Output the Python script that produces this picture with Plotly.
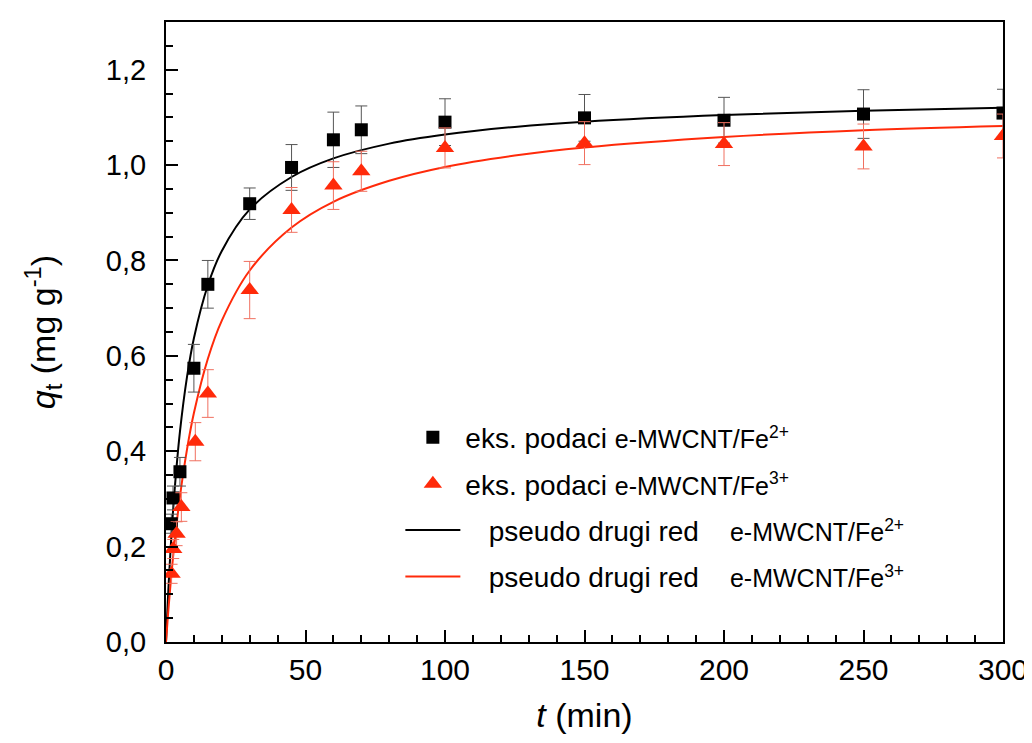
import plotly.graph_objects as go

# experimental points, e-MWCNT/Fe2+
t_fe2 = [1.9, 2.5, 5, 10, 15, 30, 45, 60, 70, 100, 150, 200, 250, 300]
q_fe2 = [0.248, 0.302, 0.357, 0.574, 0.750, 0.919, 0.995, 1.053, 1.074, 1.090, 1.099, 1.094, 1.107, 1.109]
err_fe2 = [0.02, 0.025, 0.03, 0.05, 0.05, 0.033, 0.048, 0.058, 0.05, 0.049, 0.049, 0.048, 0.051, 0.05]

# experimental points, e-MWCNT/Fe3+
t_fe3 = [2, 2.6, 3.8, 5.5, 10.5, 15, 30, 45, 60, 70, 100, 150, 200, 250, 300]
q_fe3 = [0.143, 0.195, 0.227, 0.283, 0.420, 0.521, 0.738, 0.906, 0.957, 0.987, 1.036, 1.046, 1.044, 1.039, 1.061]
err_fe3 = [0.02, 0.02, 0.025, 0.03, 0.04, 0.05, 0.06, 0.047, 0.05, 0.042, 0.042, 0.045, 0.045, 0.047, 0.046]

# pseudo second order curves
t_fit = [0, 0.5, 1, 2, 3, 5, 7.5, 10, 15, 20, 30, 45, 60, 80, 100, 125, 150, 200, 250, 300]
q_fit_fe2 = [0, 0.067, 0.127, 0.229, 0.312, 0.441, 0.555, 0.637, 0.748, 0.820, 0.907, 0.975,
             1.014, 1.045, 1.064, 1.080, 1.091, 1.105, 1.114, 1.120]
q_fit_fe3 = [0, 0.040, 0.078, 0.145, 0.205, 0.305, 0.403, 0.480, 0.594, 0.674, 0.779, 0.869,
             0.923, 0.967, 0.996, 1.020, 1.037, 1.059, 1.073, 1.082]

RED = '#ff2a0a'
small = "<span style='font-size:25px'>e-MWCNT/Fe<sup>%s</sup></span>"
gap = "&nbsp;&nbsp;&nbsp;&nbsp;"

fig = go.Figure()
fig.add_trace(go.Scatter(
    x=t_fit, y=q_fit_fe2, mode='lines', line=dict(color='black', width=2, shape='spline'),
    name="&nbsp;&nbsp;&nbsp;pseudo drugi red" + gap + small % '2+', legendrank=3, legendgroup='c'
))
fig.add_trace(go.Scatter(
    x=t_fit, y=q_fit_fe3, mode='lines', line=dict(color=RED, width=2, shape='spline'),
    name="&nbsp;&nbsp;&nbsp;pseudo drugi red" + gap + small % '3+', legendrank=4, legendgroup='d'
))
fig.add_trace(go.Scatter(
    x=t_fe2, y=q_fe2, mode='markers', marker=dict(symbol='square', size=13, color='black'),
    error_y=dict(type='data', array=err_fe2, color='#555555', thickness=1, width=6),
    name="eks. podaci " + small % '2+', legendrank=1, legendgroup='a'
))
fig.add_trace(go.Scatter(
    x=t_fe3, y=q_fe3, mode='markers', marker=dict(symbol='triangle-up', size=16, color=RED),
    error_y=dict(type='data', array=err_fe3, color='#f07060', thickness=1, width=6),
    name="eks. podaci " + small % '3+', legendrank=2, legendgroup='b'
))

axis_common = dict(
    showline=True, linecolor='black', linewidth=2, mirror=True,
    ticks='inside', ticklen=12, tickwidth=1.5, tickcolor='black',
    showgrid=False, zeroline=False,
)

fig.update_xaxes(
    range=[0, 300], dtick=50, **axis_common,
    minor=dict(dtick=10, ticks='inside', ticklen=7, tickcolor='black', tickwidth=1.5, showgrid=False),
    tickfont=dict(family='Liberation Sans Narrow, Arial Narrow, Liberation Sans', size=30, color='black'),
    title=dict(text='<i>t</i> (min)', font=dict(family='Liberation Sans, Arial', size=34, color='black'),
               standoff=18),
)
fig.update_yaxes(
    range=[0, 1.3], tick0=0, dtick=0.2, tickformat='.1f', **axis_common,
    minor=dict(dtick=0.05, ticks='inside', ticklen=7, tickcolor='black', tickwidth=1.5, showgrid=False),
    tickfont=dict(family='Liberation Sans, Arial', size=29, color='black'),
    ticklabelstandoff=12,
    title=dict(text='<i>q</i><sub>t</sub> (mg g<sup>-1</sup>)',
               font=dict(family='Liberation Sans, Arial', size=34, color='black'), standoff=40),
)

fig.update_layout(
    width=1032, height=743,
    margin=dict(l=158, r=32, t=14, b=109),
    paper_bgcolor='white', plot_bgcolor='white',
    separators=',.',
    showlegend=True,
    legend=dict(
        x=0.28, y=0.37, xanchor='left', yanchor='top',
        font=dict(family='Liberation Sans, Arial', size=28, color='black'),
        bgcolor='rgba(0,0,0,0)', itemwidth=55, tracegroupgap=7,
    ),
)

fig.write_html("out.html")
